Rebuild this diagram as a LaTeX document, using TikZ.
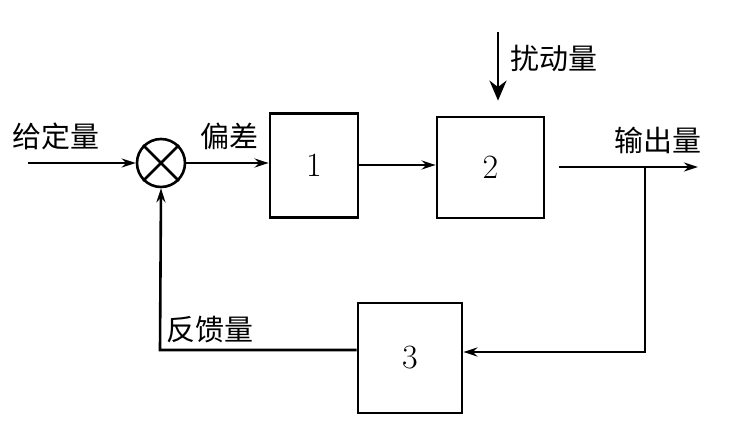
\documentclass[tikz,border=0pt]{standalone}
\usepackage{fontspec}
\newfontfamily\cjk{Noto Sans CJK SC}
\usetikzlibrary{arrows.meta}
\begin{document}
\begin{tikzpicture}[x=1pt,y=-1pt,
  blk/.style={draw,line width=2.8pt,minimum width=88pt,minimum height=104pt,font=\fontsize{34}{36}\selectfont},
  conn/.style={line width=2.6pt,-{Stealth[length=14pt,width=9pt]}},
  lbl/.style={font=\cjk\fontsize{29}{30}\selectfont,inner sep=0pt}]
\useasboundingbox (0,0) rectangle (754,435);
\node[draw,circle,line width=2.6pt,minimum size=48pt,inner sep=0pt] (sum) at (161,163) {};
\draw[line width=2.6pt] (sum.45) -- (sum.225) (sum.135) -- (sum.315);
\node[blk] (b1) at (314,165.5) {1};
\node[blk,minimum width=107pt,minimum height=101pt] (b2) at (490.5,167.5) {2};
\node[blk,minimum width=104pt,minimum height=110pt] (b3) at (410,358) {3};
\coordinate (in) at (28,163);
\coordinate (dist) at (498,32);
\coordinate (out) at (698,167);
\coordinate (br) at (645,167);
\coordinate (fb) at (645,352);
\coordinate (fl) at (160,350);
\draw[conn] (in) -- (sum.west);
\draw[conn] (sum.east) -- (b1.west |- sum.east);
\draw[conn] (b1.east |- 0,165) -- (b2.west |- 0,165);
\draw[conn,-{Stealth[length=20pt,width=17pt]}] (dist) -- ([yshift=15pt]b2.north -| dist);
\draw[conn] (b2.east |- out) ++(14,0) -- (out);
\draw[conn] (br) -- (fb) -- (b3.east |- fb);
\draw[conn] (b3.west |- fl) -- (fl) -- (sum.south);
\node[lbl,anchor=south west] (l1) at (12,150) {给定量};
\node[lbl,anchor=south west] (l2) at (200,150) {偏差};
\node[lbl,anchor=south west] (l3) at (510,72) {扰动量};
\node[lbl,anchor=south west] (l4) at (614,154) {输出量};
\node[lbl,anchor=south west] (l5) at (166,343) {反馈量};
\end{tikzpicture}
\end{document}
